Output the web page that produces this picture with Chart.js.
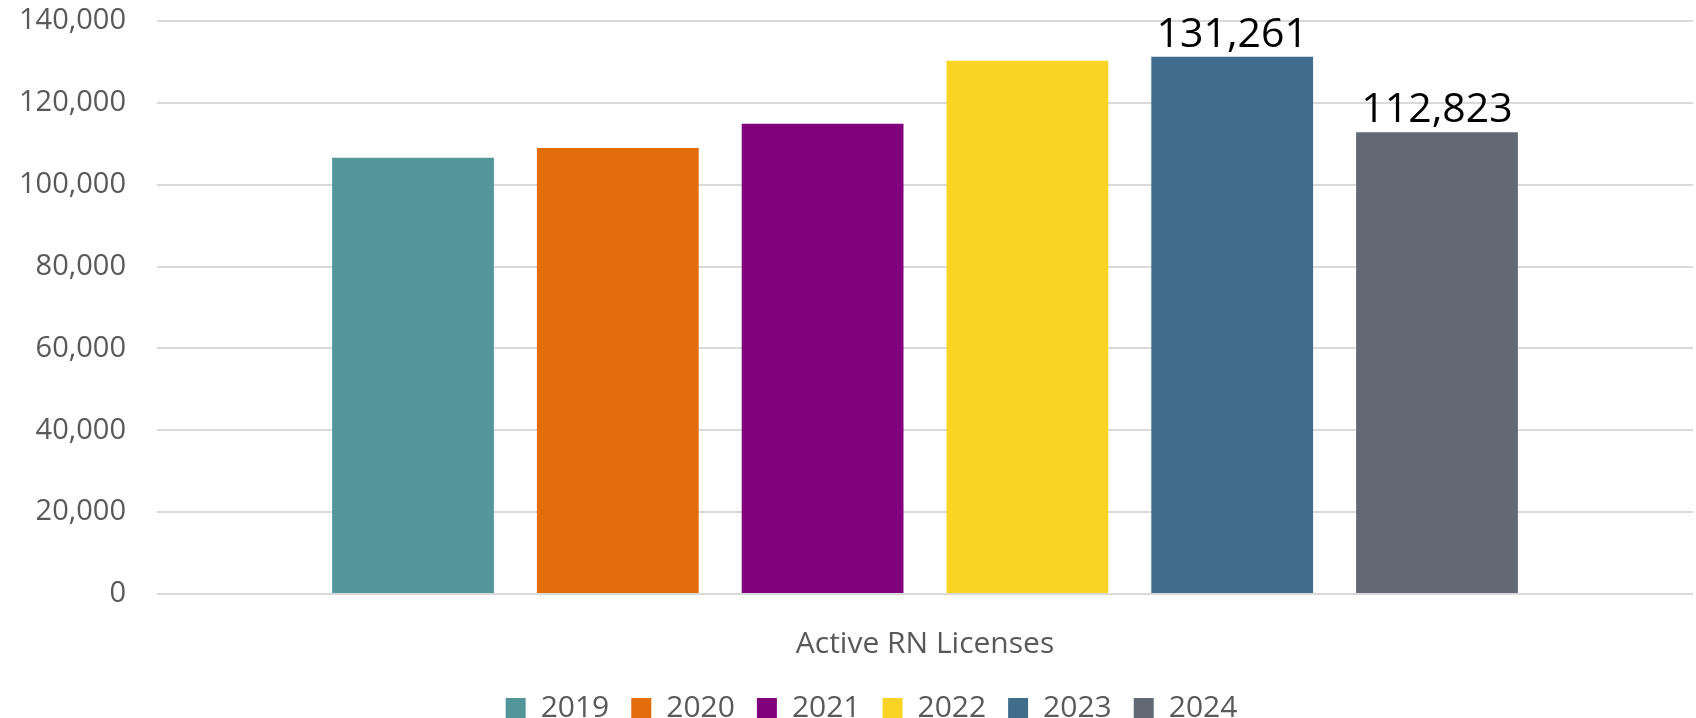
<!DOCTYPE html>
<html>
<head>
<meta charset="utf-8">
<script src="https://cdn.jsdelivr.net/npm/chart.js@4"></script>
<style>
  html, body { margin: 0; padding: 0; background: #fff; }
  #wrap { width: 1696px; height: 718px; }
</style>
</head>
<body>
<div id="wrap"><canvas id="rnChart" width="1696" height="718"></canvas></div>
<script>
// Chart data
const categories = ["Active RN Licenses"];
const years = ["2019", "2020", "2021", "2022", "2023", "2024"];
const licenseCounts = [106600, 109000, 114900, 130300, 131261, 112823];
const yearColors = ["#52969a", "#e36c0b", "#80007e", "#fad425", "#3f6d8b", "#636875"];
const labeledYears = ["2023", "2024"];
const yTicks = [0, 20000, 40000, 60000, 80000, 100000, 120000, 140000];

const FONT = "'Open Sans', 'Noto Sans', sans-serif";
const GREY = "#595959";

// draws the value above the bars listed in labeledYears
const valueLabels = {
  id: "valueLabels",
  afterDatasetsDraw(chart) {
    const ctx = chart.ctx;
    ctx.save();
    ctx.font = "41px " + FONT;
    ctx.fillStyle = "#000";
    ctx.textAlign = "center";
    ctx.textBaseline = "alphabetic";
    chart.data.datasets.forEach((ds, i) => {
      if (!labeledYears.includes(ds.label)) return;
      const bar = chart.getDatasetMeta(i).data[0];
      ctx.fillText(ds.data[0].toLocaleString("en-US"), bar.x, bar.y - 10);
    });
    ctx.restore();
  },
};

// legend in the original sits a bit right of the canvas centre
const legendShift = {
  id: "legendShift",
  afterLayout(chart) {
    chart.legend.left += 31;
    chart.legend.right += 31;
  },
};

new Chart(document.getElementById("rnChart"), {
  type: "bar",
  data: {
    labels: categories,
    datasets: years.map((y, i) => ({
      label: y,
      data: [licenseCounts[i]],
      backgroundColor: yearColors[i],
      categoryPercentage: 0.8,
      barPercentage: 0.79,
    })),
  },
  options: {
    responsive: false,
    animation: false,
    layout: { padding: { left: -12, right: 3, top: 21, bottom: -15 } },
    plugins: {
      legend: {
        position: "bottom",
        labels: {
          font: { family: FONT, size: 30 },
          color: GREY,
          boxWidth: 20,
          boxHeight: 20,
          padding: 22,
        },
      },
      tooltip: { enabled: false },
    },
    scales: {
      x: {
        grid: { display: false },
        border: { display: false },
        ticks: { display: false },
        title: {
          display: true,
          text: categories[0],
          font: { family: FONT, size: 30 },
          color: GREY,
          padding: { top: 24, bottom: 9 },
        },
      },
      y: {
        min: 0,
        max: 140000,
        afterBuildTicks: (axis) => {
          axis.ticks = yTicks.map((v) => ({ value: v }));
        },
        afterFit: (axis) => {
          axis.paddingTop = 0;
        },
        grid: { color: "#d9d9d9", lineWidth: 2, drawTicks: false },
        border: { display: false },
        ticks: {
          font: { family: FONT, size: 29 },
          color: GREY,
          padding: 31,
          callback: (v) => v.toLocaleString("en-US"),
        },
      },
    },
  },
  plugins: [valueLabels, legendShift],
});
</script>
</body>
</html>
